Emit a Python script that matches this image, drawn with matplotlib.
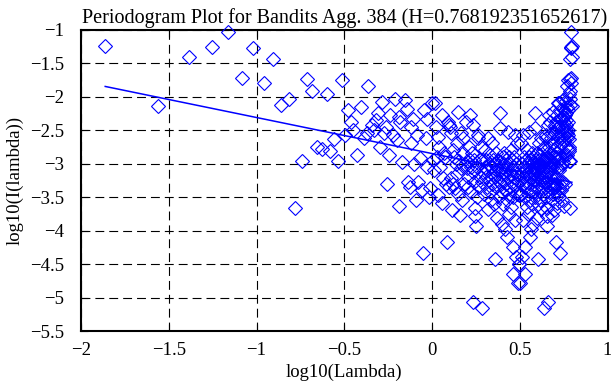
import matplotlib
matplotlib.use("Agg")
import matplotlib.pyplot as plt
from matplotlib.ticker import FuncFormatter

plt.rcParams['font.family'] = ['Liberation Serif', 'DejaVu Serif']
plt.rcParams['axes.unicode_minus'] = True

title_text = "Periodogram Plot for Bandits Agg. 384 (H=0.768192351652617)"
x_label = "log10(Lambda)"
y_label = "log10(I(lambda))"
x_ticks = [-2, -1.5, -1, -0.5, 0, 0.5, 1]
y_ticks = [-5.5, -5, -4.5, -4, -3.5, -3, -2.5, -2, -1.5, -1]

# low frequencies (log10(lambda) < 0)
x_low = [-1.862, -1.56, -1.383, -1.255, -1.161, -1.081, -1.018, -0.96, -0.904, -0.86,
         -0.815, -0.781, -0.742, -0.711, -0.682, -0.657, -0.629, -0.60, -0.581, -0.56,
         -0.537, -0.515, -0.496, -0.477, -0.46, -0.45, -0.429, -0.406, -0.39, -0.372,
         -0.363, -0.344, -0.33, -0.32, -0.306, -0.296, -0.283, -0.273, -0.26, -0.255,
         -0.243, -0.239, -0.22, -0.211, -0.2, -0.19, -0.186, -0.182, -0.173, -0.154,
         -0.144, -0.135, -0.128, -0.122, -0.12, -0.106, -0.1, -0.091, -0.087, -0.078,
         -0.068, -0.059, -0.05, -0.045, -0.034, -0.030, -0.027, -0.015, -0.011, -0.002]
y_low = [-1.24, -2.14, -1.41, -1.26, -1.03, -1.73, -1.27, -1.80, -1.44, -2.13,
         -2.03, -3.66, -2.96, -1.74, -1.92, -2.76, -2.78, -1.96, -2.82, -2.64,
         -2.97, -1.76, -2.575, -2.20, -2.38, -2.50, -2.87, -2.15, -2.62, -2.55,
         -1.85, -2.43, -2.50, -2.35, -2.25, -2.75, -2.08, -2.55, -2.45, -3.31,
         -2.88, -2.27, -2.57, -2.03, -2.65, -2.30, -3.63, -2.38, -2.98, -2.05,
         -2.18, -3.27, -3.35, -2.70, -2.45, -2.33, -3.00, -3.54, -2.57, -3.27,
         -2.92, -3.40, -4.33, -2.20, -2.62, -2.33, -3.05, -3.50, -3.37, -2.09]
# the same values appear again, folded, close to log10(2*pi)
x_low_folded = [0.797, 0.796, 0.795, 0.794, 0.793, 0.792, 0.7915, 0.791, 0.789, 0.7885,
                0.787, 0.7866, 0.785, 0.7845, 0.7836, 0.783, 0.782, 0.780, 0.7797, 0.779,
                0.778, 0.7765, 0.7755, 0.7745, 0.7735, 0.773, 0.772, 0.770, 0.769, 0.768,
                0.767, 0.766, 0.765, 0.764, 0.763, 0.762, 0.7606, 0.7597, 0.758, 0.758,
                0.757, 0.756, 0.754, 0.753, 0.752, 0.751, 0.7506, 0.750, 0.749, 0.747,
                0.7455, 0.744, 0.7434, 0.7426, 0.742, 0.740, 0.739, 0.738, 0.7376, 0.736,
                0.735, 0.733, 0.732, 0.731, 0.729, 0.728, 0.7278, 0.726, 0.725, 0.723]

# middle frequencies (0 <= log10(lambda) < 0.5)
x_mid = [0.005, 0.012, 0.017, 0.022, 0.027, 0.033, 0.036, 0.042, 0.048, 0.055,
         0.055, 0.061, 0.068, 0.074, 0.079, 0.084, 0.09, 0.095, 0.099,
         0.102, 0.106, 0.11, 0.112, 0.117, 0.121, 0.125, 0.129, 0.134, 0.14,
         0.143, 0.147, 0.15, 0.155, 0.16, 0.163, 0.167, 0.172, 0.176, 0.178,
         0.183, 0.188, 0.193, 0.198,
         0.201, 0.204, 0.207, 0.21, 0.214, 0.216, 0.22, 0.224, 0.228, 0.232,
         0.235, 0.235, 0.238, 0.242, 0.245, 0.245, 0.25, 0.254, 0.258, 0.262,
         0.264, 0.268, 0.272, 0.276, 0.28, 0.283, 0.283, 0.288, 0.292, 0.297,
         0.301, 0.304, 0.307, 0.31, 0.313, 0.316, 0.32, 0.32, 0.323, 0.326,
         0.329, 0.332, 0.335, 0.338, 0.34, 0.343, 0.346, 0.349, 0.352, 0.355,
         0.358, 0.359, 0.362, 0.365, 0.367, 0.369, 0.372, 0.375, 0.378, 0.381,
         0.384, 0.387, 0.387, 0.39, 0.392, 0.395, 0.397, 0.399,
         0.401, 0.403, 0.405, 0.407, 0.409, 0.411, 0.413, 0.415, 0.417, 0.42,
         0.422, 0.424, 0.426, 0.428, 0.43, 0.432, 0.435, 0.437, 0.439, 0.441,
         0.443, 0.445, 0.447, 0.449, 0.451, 0.454, 0.456, 0.458, 0.46, 0.462,
         0.464, 0.466, 0.468, 0.47, 0.472, 0.474, 0.476, 0.478, 0.48, 0.483,
         0.485, 0.487, 0.489, 0.492, 0.494, 0.497]
y_mid = [-2.95, -3.10, -2.10, -2.45, -2.90, -2.60, -3.47, -2.75, -3.05, -2.28,
         -3.59, -3.22, -2.85, -2.90, -3.30, -4.17, -2.38, -2.42, -3.35,
         -2.45, -3.22, -2.55, -3.69, -2.80, -3.30, -2.90, -3.37, -3.00, -2.70,
         -3.15, -3.45, -2.23, -2.97, -3.77, -3.07, -2.55, -3.55, -2.85, -2.62,
         -3.30, -3.00, -2.38, -3.07,
         -2.97, -3.35, -3.20, -2.75, -2.95, -2.28, -3.42, -3.05, -2.85, -3.12,
         -2.43, -5.06, -3.27, -2.95, -3.66, -3.79, -3.94, -3.50, -3.05, -2.62,
         -2.57, -3.35, -2.95, -3.20, -2.75, -3.27, -5.16, -3.12, -2.95, -3.45,
         -3.05, -2.80, -3.20, -2.95, -3.35, -3.10, -2.62, -3.68, -3.00, -3.25,
         -2.88, -3.42, -3.05, -3.55, -3.30, -2.70, -2.95, -3.15, -3.60, -3.00,
         -3.20, -4.42, -2.85, -3.10, -3.35, -3.82, -3.05, -2.95, -3.25, -3.50,
         -3.10, -2.24, -2.47, -2.98, -3.15, -3.30, -3.90, -3.42,
         -3.05, -2.90, -3.25, -3.60, -3.00, -3.15, -2.85, -3.40, -3.98, -3.10,
         -2.95, -3.30, -3.55, -4.10, -3.05, -3.20, -2.53, -2.90, -3.45, -3.75,
         -3.00, -3.15, -3.35, -2.80, -3.65, -3.27, -2.95, -3.10, -4.25, -4.65,
         -3.50, -3.20, -2.90, -3.05, -2.57, -3.85, -3.30, -4.40, -3.00, -3.15,
         -3.45, -2.70, -3.25, -4.78, -3.47, -4.50]
x_mid_folded = [0.722, 0.721, 0.720, 0.719, 0.718, 0.716, 0.716, 0.714, 0.713, 0.712,
                0.712, 0.710, 0.709, 0.707, 0.706, 0.705, 0.704, 0.702, 0.701,
                0.701, 0.700, 0.699, 0.698, 0.697, 0.696, 0.695, 0.694, 0.692, 0.690,
                0.690, 0.688, 0.688, 0.686, 0.685, 0.684, 0.683, 0.681, 0.680, 0.679,
                0.678, 0.676, 0.674, 0.673,
                0.672, 0.671, 0.670, 0.669, 0.667, 0.666, 0.665, 0.664, 0.662, 0.661,
                0.659, 0.659, 0.658, 0.657, 0.656, 0.656, 0.654, 0.652, 0.651, 0.649,
                0.648, 0.646, 0.645, 0.643, 0.641, 0.640, 0.640, 0.638, 0.636, 0.634,
                0.632, 0.630, 0.629, 0.628, 0.626, 0.625, 0.623, 0.623, 0.621, 0.620,
                0.618, 0.617, 0.615, 0.613, 0.612, 0.611, 0.609, 0.607, 0.606, 0.604,
                0.602, 0.602, 0.600, 0.598, 0.597, 0.596, 0.594, 0.592, 0.591, 0.589,
                0.587, 0.585, 0.585, 0.583, 0.582, 0.580, 0.578, 0.577,
                0.576, 0.574, 0.573, 0.572, 0.570, 0.569, 0.568, 0.566, 0.565, 0.563,
                0.561, 0.560, 0.558, 0.557, 0.555, 0.554, 0.552, 0.550, 0.548, 0.547,
                0.545, 0.544, 0.542, 0.541, 0.539, 0.536, 0.535, 0.533, 0.531, 0.530,
                0.528, 0.526, 0.524, 0.523, 0.521, 0.519, 0.517, 0.515, 0.514, 0.511,
                0.509, 0.507, 0.505, 0.502, 0.500, 0.497]

# fitted regression line
fit_x = [-1.862, 0.797]
fit_y = [-1.85, -3.28]

x_all = x_low + x_mid + x_low_folded + x_mid_folded
y_all = y_low + y_mid + y_low + y_mid

W, H = 611, 385
fig = plt.figure(figsize=(W / 100, H / 100), dpi=100)
ax = fig.add_axes([81 / W, 1 - 331 / H, (607.5 - 81) / W, (331 - 29.5) / H])

ax.plot(x_all, y_all, linestyle='none', marker='D', markersize=7.3,
        markerfacecolor='none', markeredgecolor='blue', markeredgewidth=0.8,
        clip_on=False, zorder=3)
ax.plot(fit_x, fit_y, color='blue', linewidth=1.1, zorder=4)

ax.set_xlim(-2, 1)
ax.set_ylim(-5.5, -1)
ax.set_xticks(x_ticks)
ax.set_yticks(y_ticks)
fmt = FuncFormatter(lambda v, p: ("%g" % v).replace("-", "\u2212"))
ax.xaxis.set_major_formatter(fmt)
ax.yaxis.set_major_formatter(fmt)
ax.grid(True, color='black', linestyle=(0, (8, 4.5)), linewidth=0.8)
ax.set_axisbelow(True)
for s in ax.spines.values():
    s.set_linewidth(1.5)
ax.tick_params(direction='in', top=True, right=True, length=5, width=0.8,
               labelsize=13.5)
ax.tick_params(axis='x', pad=8)
ax.tick_params(axis='y', pad=12)

ax.set_title(title_text, fontsize=14.5, pad=5)
ax.set_xlabel(x_label, fontsize=13.5, labelpad=3)
ax.set_ylabel(y_label, fontsize=13.5, labelpad=5)

fig.savefig("out.png", dpi=100)
